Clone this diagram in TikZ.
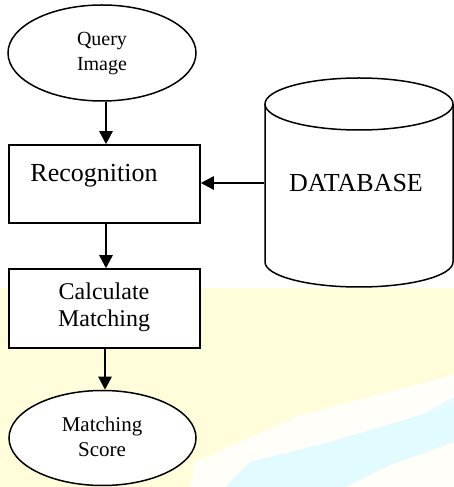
\documentclass[tikz,border=0pt]{standalone}
\usepackage{fontspec}
\setmainfont{Liberation Serif}
\usetikzlibrary{arrows.meta,shapes.geometric}
\definecolor{bgyellow}{HTML}{FFFDDA}
\definecolor{bgcyan}{HTML}{E2FBFF}
\begin{document}
\begin{tikzpicture}[x=1pt,y=1pt,
  shapeline/.style={draw=black,line width=1.5pt,fill=white},
  ellnode/.style={shapeline,ellipse,inner sep=0pt,align=center},
  boxnode/.style={shapeline,rectangle,inner sep=0pt,align=center},
  arr/.style={line width=2.4pt,-{Triangle[length=13pt,width=13pt]}},
  lbl/.style={inner sep=0pt,align=center}
]
\useasboundingbox (0,0) rectangle (454,487);
% background wash
\fill[bgyellow] (0,0) rectangle (454,199);
\fill[white,opacity=0.85] (190,0) -- (195,25) -- (300,72) -- (454,112) -- (454,0) -- cycle;
\fill[bgcyan] (225,0) -- (250,25) -- (330,45) -- (454,82) -- (454,45) -- (390,22) -- (345,0) -- cycle;
\fill[bgcyan,opacity=0.7] (390,55) -- (454,90) -- (454,70) -- cycle;
% nodes
\node[ellnode,minimum width=188pt,minimum height=96pt] (query) at (102,434) {};
\node[lbl,font=\fontsize{20}{25}\selectfont] (querytext) at (102,433) {Query\\Image};
\node[boxnode,minimum width=191pt,minimum height=78pt] (recog) at (104.5,303) {};
\node[lbl,font=\fontsize{26}{30}\selectfont] (recogtext) at (94,311) {Recognition};
\node[boxnode,minimum width=191pt,minimum height=79pt] (calc) at (104.5,178.5) {};
\node[lbl,font=\fontsize{24}{27}\selectfont] (calctext) at (104,180) {Calculate\\Matching};
\node[ellnode,minimum width=187pt,minimum height=95pt] (score) at (102.5,49) {};
\node[lbl,font=\fontsize{21}{25}\selectfont] (scoretext) at (102,50) {Matching\\Score};
% database cylinder
\draw[line width=1.5pt,fill=white] (265,383) -- (265,225) arc[start angle=180,end angle=360,x radius=94,y radius=25] -- (453,383);
\draw[line width=1.5pt,fill=white] (359,383) ellipse[x radius=94,y radius=26];
\coordinate (dbleft) at (264,304);
\node[lbl,font=\fontsize{26}{30}\selectfont] (dbtext) at (356,304) {DATABASE};
% connectors
\draw[arr] ([xshift=4pt]query.south) -- ([xshift=4pt]query.south |- recog.north);
\draw[arr] ([xshift=1.5pt]recog.south) -- ([xshift=1.5pt]recog.south |- calc.north);
\draw[arr] ([xshift=0.5pt]calc.south) -- ([xshift=0.5pt]calc.south |- score.north);
\draw[arr] (dbleft) -- (dbleft -| recog.east);
\end{tikzpicture}
\end{document}
